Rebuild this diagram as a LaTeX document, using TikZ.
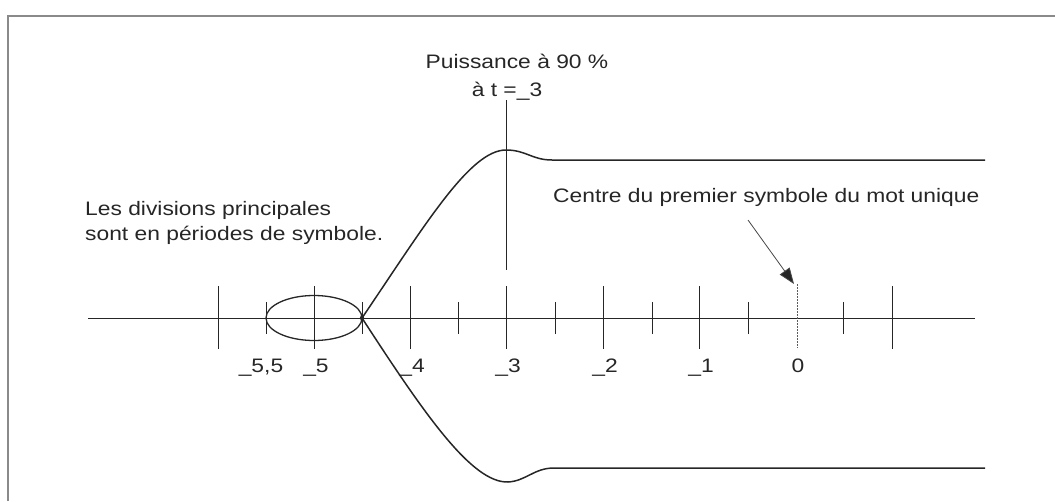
\documentclass[tikz,border=0pt]{standalone}
\usepackage{fontspec}
\setmainfont{Liberation Sans}
\newfontfamily\wfont[FakeStretch=1.17]{Liberation Sans}
\usetikzlibrary{arrows.meta}
\definecolor{ink}{HTML}{262626}
\definecolor{frm}{HTML}{8A8A8A}
\tikzset{
  txt/.style={font=\wfont\fontsize{19.5}{27}\selectfont, text=ink, inner sep=0pt},
  lbl/.style={txt, anchor=base},
  curve/.style={draw=ink, line width=1.5pt},
  axis/.style={draw=ink, line width=0.9pt},
  longtick/.style={draw=ink, line width=0.9pt},
  halftick/.style={draw=ink, line width=0.9pt},
  frame/.style={draw=frm, line width=1.4pt},
}
\begin{document}
\begin{tikzpicture}[x=1pt,y=-1pt]
\useasboundingbox (0,0) rectangle (1055,501);
% frame (top and left edges)
\draw[frame] (8,501) -- (8,16) -- (1055,16);
% axis
\coordinate (axL) at (88,318);
\coordinate (axR) at (975,318);
\draw[axis] (axL) -- (axR);
% long ticks
\foreach \x in {218,314,410,506,603,699,892}
  \draw[longtick] (\x,286) -- (\x,349);
\draw[longtick, dash pattern=on 2pt off 1pt, draw=ink!75] (797,284) -- (797,348);
% half ticks
\foreach \x in {266,362,458,555,652,748,843}
  \draw[halftick] (\x,302) -- (\x,334);
% ellipse
\coordinate (ell) at (314,318);
\draw[draw=ink, line width=1.3pt] (ell) ellipse [x radius=48pt, y radius=22.5pt];
\coordinate (X) at (362,318);
\fill[ink] (X) circle (2.2pt);
% vertical marker at -3
\coordinate (vtop) at (506,100);
\coordinate (vbot) at (506,270);
\draw[longtick] (vtop) -- (vbot);
% envelope curves
\draw[curve] (X) .. controls (425,225) and (470,150) .. (506,150)
  .. controls (526,150) and (532,160) .. (552,160) -- (985,160);
\draw[curve] (X) .. controls (425,415) and (472,483) .. (508,482)
  .. controls (526,481) and (534,468) .. (554,468) -- (985,468);
% texts
\node[txt, anchor=base] (pw1) at (517,68) {Puissance à 90 \%};
\node[txt, anchor=base] (pw2) at (507,96) {à t =\_3};
\node[txt, anchor=base west] (div1) at (85,215) {Les divisions principales};
\node[txt, anchor=base west] (div2) at (85,240) {sont en périodes de symbole.};
\node[txt, anchor=base west] (ctr) at (553,202) {Centre du premier symbole du mot unique};
% arrow
\coordinate (arS) at (748,220);
\coordinate (arE) at (794,284);
\draw[draw=ink!85, line width=0.8pt, -{Triangle[length=16pt,width=12pt,fill=ink]}] (arS) -- (arE);
% labels
\node[lbl] (l55) at (261,372) {\_5,5};
\node[lbl] (l5) at (316,372) {\_5};
\node[lbl] (l4) at (412,372) {\_4};
\node[lbl] (l3) at (508,372) {\_3};
\node[lbl] (l2) at (605,372) {\_2};
\node[lbl] (l1) at (701,372) {\_1};
\node[lbl] (l0) at (798,372) {0};
\end{tikzpicture}
\end{document}
